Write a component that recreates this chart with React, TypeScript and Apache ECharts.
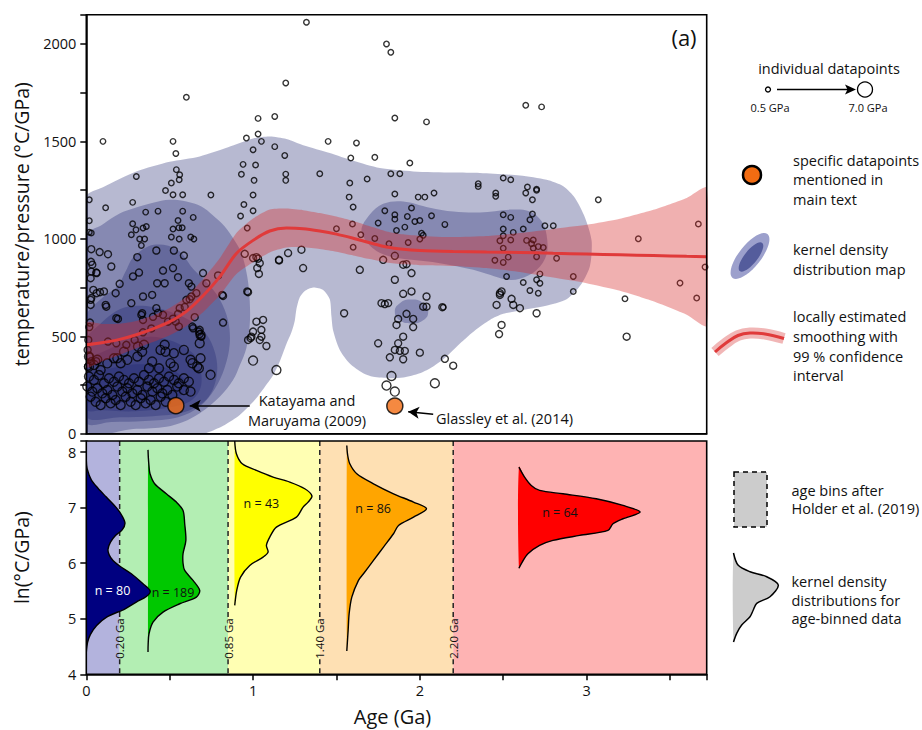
import React, { useEffect, useRef } from "react";
import * as echarts from "echarts";

const FONT = '"Open Sans", "Noto Sans", sans-serif';

const X_MAX = 3.72;
const TP_MAX = 2150;
const LN_MIN = 4;
const LN_MAX = 8.2;

// ---------- panel (a): individual datapoints [age Ga, T/P °C/GPa] ----------
const ptsLowP: number[][] = [
  [0.10,1500],[0.60,1726],[0.52,1500],[0.537,1438],[0.30,1320],[0.54,1355],[0.56,1329],[0.557,1303],[0.51,1286],[0.475,1248],[0.52,1226],[0.578,1226],[0.747,1225],[0.018,1200],[0.116,1159],[0.278,1187],[0.356,1137],[0.43,1142],[0.578,1142],[0.641,1110],[0.018,1093],[0.018,1034],[0.03,1030],[0.278,1077],[0.298,1046],[0.34,1055],[0.36,1063],[0.27,1021],[0.32,999],[0.35,999],[0.55,1094],[0.52,1050],[0.555,1057],[0.575,1057],[0.51,1009],[0.557,999],[0.626,1009],[0.645,999],[0.33,966],
  [0.96,1517],[1.03,1618],[1.03,1538],[1.05,1500],[1.13,1628],[1.13,1473],[1.0,1457],[1.19,1428],[1.196,1800],[0.94,1382],[1.015,1379],[0.93,1331],[1.006,1300],[1.196,1332],[1.196,1300],[1.0,1225],[0.945,1176],[1.0,1144],[0.925,1117],[0.965,1055],
  [1.32,2111],[1.80,2000],[1.826,1957],[2.635,1685],[2.73,1677],[1.85,1620],[2.04,1600],[1.45,1500],[1.62,1492],[1.586,1415],[1.73,1418],[1.94,1389],[1.40,1334],[1.58,1286],[1.684,1307],[1.826,1334],[1.88,1334],[1.576,1214],[1.60,1163],[1.85,1230],[1.99,1214],[2.03,1214],[2.085,1235],[2.35,1283],[2.35,1269],[2.50,1312],[2.545,1303],[2.455,1235],[2.455,1218],[2.645,1266],[2.635,1235],[2.70,1255],[2.70,1249],[2.675,1200],[3.07,1200],
  [1.79,1144],[1.85,1123],[1.85,1101],[1.925,1115],[1.95,1158],[1.97,1089],[2.0,1094],[1.91,1060],[1.86,1043],[2.01,1029],[2.02,1018],[2.07,1118],[2.15,1074],[1.75,1081],[1.596,1076],[2.50,1123],[2.545,1110],[2.675,1127],[2.66,1098],[2.50,1050],[2.56,1033],[2.62,1050],[2.50,1016],[2.75,1067],[2.80,1067],[3.67,1076],[3.31,1000],[1.50,1052],[1.646,1021],
  [1.73,1002],[1.815,975],[1.93,981],[2.0,999],[1.60,957],[2.48,990],[2.545,994],[2.50,952],[2.64,992],[2.68,994],[2.67,975],[2.68,952],[2.71,960],[2.74,955],[2.53,906],[2.45,890],[2.50,879],[2.70,908],[2.82,900],
  [2.72,820],[2.70,790],[2.72,772],[2.62,776],[2.66,735],[2.71,721],[2.92,807],[2.92,730],[2.52,807],[3.23,692],[3.56,773],[3.66,696],[3.71,855],[2.14,649],
];

const ptsMidP: number[][] = [
  [1.29,944],[1.21,927],[1.30,850],[1.156,889],[0.95,923],[1.0,901],[1.03,898],[1.04,875],[1.025,850],[1.035,820],[0.97,726],
  [1.64,841],[1.78,892],[1.85,913],[1.90,867],[1.92,870],[1.95,824],[1.85,790],[1.90,718],[1.95,730],[2.04,704],[1.77,670],[1.79,665],[1.81,670],[1.546,618],[1.92,615],[2.02,652],[2.04,652],[2.135,649],[1.87,589],[1.86,558],[1.96,589],[1.96,547],[1.90,498],[1.87,464],[1.75,464],[1.85,430],[1.88,425],[1.91,425],[2.0,416],[1.82,392],[1.90,382],[2.15,384],[2.20,349],
  [2.48,721],[2.49,730],[2.48,712],[2.55,692],[2.56,661],[2.60,644],[2.46,661],[2.70,618],[2.49,558],[2.475,511],[3.24,498],
  [0.03,947],[0.08,932],[0.13,921],[0.028,882],[0.036,867],[0.06,827],[0.03,832],[0.15,858],[0.306,906],[0.42,940],[0.525,940],[0.585,914],[0.52,850],[0.46,837],[0.55,803],[0.28,807],[0.316,827],[0.2,769],[0.425,772],[0.47,772],[0.615,772],[0.70,824],[0.72,772],[0.79,812],[1.155,892],[1.02,906],[0.82,707],[0.026,798],[0.062,824],[0.026,687],[0.03,696],[0.042,738],[0.062,721],[0.082,726],[0.106,730],[0.176,721],[0.12,652],[0.026,661],[0.022,570],[0.018,547],[0.19,589],[0.27,670],[0.34,704],[0.395,712],[0.42,644],[0.33,610],[0.34,584],[0.56,644],[0.60,687],[0.63,704],[0.63,755],[0.66,721],[0.65,598],[0.68,533],[0.68,511],[0.69,498],[0.64,541],[0.82,570],[0.97,481],[0.99,498],[1.05,498],[1.06,584],[1.05,533],[1.04,481],[1.08,450],[1.02,575],[1.0,524],[0.18,593],[0.335,618],[0.536,575],[0.555,550],[0.636,550],[0.675,524],[0.116,661],[0.815,712],[0.965,730],[0.985,490],
  [0.40,600],[0.43,620],[0.46,610],[0.49,575],[0.52,590],[0.55,615],[0.59,650],[0.62,690],[0.13,473],[0.18,464],[0.24,456],[0.29,481],[0.34,520],[0.39,540],[0.012,481],[0.008,430],[0.02,396],[0.01,344],[0.03,372],[0.06,372],
];

const ptsHighP: number[][] = [
  [0.016,293],[0.046,276],[0.076,301],[0.106,259],[0.136,284],[0.166,267],[0.196,293],[0.226,276],[0.256,259],[0.286,284],[0.316,267],[0.346,301],[0.376,276],[0.406,259],[0.436,284],[0.466,267],[0.496,293],[0.526,276],[0.555,259],[0.585,284],[0.615,267],
  [0.006,242],[0.036,216],[0.066,233],[0.096,207],[0.126,224],[0.156,199],[0.186,242],[0.216,216],[0.246,233],[0.276,207],[0.306,224],[0.336,199],[0.366,242],[0.396,216],[0.426,233],[0.456,207],[0.486,224],[0.516,199],[0.545,242],[0.585,224],[0.625,216],
  [0.026,190],[0.056,164],[0.086,147],[0.116,182],[0.146,156],[0.176,173],[0.206,147],[0.236,190],[0.266,164],[0.296,147],[0.326,182],[0.356,156],[0.386,173],[0.416,147],[0.446,190],[0.476,164],
  [0.016,344],[0.046,353],[0.086,327],[0.016,396],[0.066,379],[0.126,361],[0.166,387],[0.226,421],[0.246,379],[0.186,387],[0.206,362],[0.346,456],[0.31,447],[0.335,421],[0.47,456],[0.445,430],[0.475,421],[0.525,413],[0.585,430],[0.625,379],[0.636,362],[0.665,344],[0.685,387],[0.675,336],[0.745,302],[0.505,362],[0.525,344],[0.436,336],[0.395,370],[0.376,336],[0.306,396],[0.68,464],[0.685,507],
  [1.83,296],[1.80,247],[1.85,216],[2.09,259],[1.14,327],[1.0,375],
];

const highlightPts: number[][] = [[0.537,144],[1.85,142]];
const highlightArrows: number[][][] = [
  [[0.98,144],[0.62,144]],
  [[2.08,100],[1.93,113]],
];

// ---------- kernel density contours [age, T/P] ----------
const kdeOuter = [[0,0],[0,1217],[0.1,1265],[0.3,1345],[0.5,1395],[0.68,1423],[0.85,1470],[1.0,1515],[1.1,1525],[1.2,1512],[1.3,1480],[1.46,1440],[1.6,1400],[1.76,1363],[1.96,1346],[2.2,1340],[2.36,1338],[2.6,1325],[2.76,1303],[2.86,1270],[2.93,1210],[2.99,1110],[3.03,990],[3.02,860],[2.97,770],[2.88,690],[2.75,655],[2.62,635],[2.5,615],[2.42,584],[2.33,530],[2.25,470],[2.16,396],[2.08,345],[2.0,310],[1.9,288],[1.82,285],[1.72,292],[1.66,310],[1.58,360],[1.52,430],[1.48,530],[1.47,601],[1.46,690],[1.42,738],[1.36,750],[1.31,732],[1.28,700],[1.26,640],[1.25,580],[1.23,520],[1.2,460],[1.16,370],[1.12,300],[1.07,240],[1.01,173],[0.92,96],[0.83,45],[0.74,10],[0.7,0]];
const kdeL2West = [[0,25],[0,1012],[0.1,1075],[0.2,1130],[0.29,1158],[0.4,1185],[0.5,1200],[0.6,1192],[0.69,1166],[0.76,1120],[0.83,1063],[0.89,990],[0.93,927],[0.965,807],[0.98,680],[0.98,560],[0.96,440],[0.92,350],[0.88,276],[0.8,190],[0.68,105],[0.58,60],[0.48,36],[0.3,25]];
const kdeL2East = [[1.65,1040],[1.7,1125],[1.78,1180],[1.9,1192],[2.06,1160],[2.2,1140],[2.36,1135],[2.55,1150],[2.66,1140],[2.73,1090],[2.76,1020],[2.76,920],[2.7,840],[2.6,795],[2.52,790],[2.42,815],[2.32,841],[2.12,875],[1.95,892],[1.82,909],[1.72,950]];
const kdeL2Blob = [[1.85,626],[1.88,670],[1.95,688],[2.02,670],[2.05,626],[2.02,582],[1.95,566],[1.88,582]];
const kdeL3 = [[0,60],[0,600],[0.1,700],[0.186,755],[0.24,840],[0.286,909],[0.405,969],[0.545,944],[0.645,841],[0.73,770],[0.8,690],[0.85,580],[0.86,460],[0.83,340],[0.77,230],[0.68,140],[0.55,85],[0.35,65],[0.15,60]];
const kdeL4 = [[0,90],[0,480],[0.08,560],[0.18,630],[0.28,655],[0.4,650],[0.52,620],[0.64,570],[0.72,510],[0.77,420],[0.785,327],[0.76,230],[0.7,160],[0.585,110],[0.4,90],[0.2,85]];
const kdeL5 = [[0,125],[0,370],[0.1,420],[0.25,475],[0.386,498],[0.5,480],[0.585,447],[0.66,390],[0.69,300],[0.68,224],[0.62,165],[0.5,135],[0.29,115],[0.1,120]];
const kdeL6 = [[0,165],[0,300],[0.12,330],[0.28,355],[0.42,350],[0.54,315],[0.6,260],[0.58,205],[0.5,175],[0.3,160],[0.1,160]];

// ---------- LOESS smoothing with 99 % confidence interval ----------
const loessAge = [0,0.1,0.2,0.3,0.4,0.5,0.6,0.7,0.8,0.9,1.0,1.1,1.2,1.3,1.4,1.5,1.6,1.7,1.8,1.9,2.0,2.2,2.4,2.6,2.8,3.0,3.2,3.4,3.6,3.72];
const loessFit = [456,468,484,508,538,575,628,708,805,925,992,1040,1055,1052,1040,1024,1003,980,958,946,940,935,932,930,926,922,918,914,910,908];
const loessUpper = [571,563,564,578,606,645,703,793,900,1030,1104,1150,1155,1147,1132,1114,1091,1064,1038,1023,1015,1009,1014,1030,1051,1072,1103,1149,1210,1263];
const loessLower = [341,373,404,438,470,505,553,623,710,820,880,930,955,957,948,934,915,896,878,869,865,861,850,830,801,772,733,679,610,553];

// ---------- panel (b): age bins and kernel densities [ln(T/P), width in Ga] ----------
const binEdges = [0, 0.2, 0.85, 1.4, 2.2, 3.72];
const binLabels = ["0.20 Ga", "0.85 Ga", "1.40 Ga", "2.20 Ga"];
const binColors = ["#b3b3dd", "#b3eeb3", "#ffffb3", "#fee0b3", "#feb3b3"];

const violinBase = [0, 0.37, 0.89, 1.562, 2.594];
const violinCounts = [80, 189, 43, 86, 64];
const violinColors = ["#000080", "#00c800", "#ffff00", "#ffa500", "#ff0000"];
const violin1 = [[7.85,0],[7.7,0.005],[7.5,0.03],[7.35,0.07],[7.19,0.12],[7.0,0.18],[6.85,0.215],[6.72,0.232],[6.6,0.215],[6.5,0.175],[6.38,0.145],[6.25,0.13],[6.15,0.137],[6.05,0.16],[5.95,0.2],[5.81,0.27],[5.63,0.34],[5.5,0.383],[5.4,0.36],[5.3,0.3],[5.18,0.233],[5.03,0.122],[4.88,0.062],[4.72,0.025],[4.58,0.008],[4.4,0]];
const violin2 = [[8.04,0],[7.9,0.002],[7.75,0.006],[7.61,0.012],[7.43,0.04],[7.25,0.11],[7.1,0.17],[6.95,0.21],[6.71,0.22],[6.41,0.227],[6.17,0.21],[6.0,0.21],[5.87,0.22],[5.69,0.27],[5.51,0.31],[5.39,0.29],[5.27,0.19],[5.12,0.09],[4.94,0.03],[4.73,0.006],[4.55,0.001],[4.4,0]];
const violin3 = [[8.2,0],[7.97,0.01],[7.79,0.045],[7.67,0.13],[7.55,0.23],[7.46,0.33],[7.34,0.42],[7.21,0.463],[7.1,0.44],[7.01,0.41],[6.83,0.37],[6.65,0.25],[6.47,0.21],[6.32,0.19],[6.2,0.2],[6.11,0.17],[5.96,0.09],[5.75,0.035],[5.51,0.012],[5.24,0]];
const violin4 = [[8.12,0],[7.95,0.005],[7.79,0.018],[7.61,0.06],[7.43,0.16],[7.25,0.28],[7.1,0.4],[6.98,0.478],[6.83,0.40],[6.68,0.31],[6.53,0.28],[6.29,0.22],[6.05,0.16],[5.81,0.1],[5.69,0.07],[5.39,0.03],[5.09,0.014],[4.79,0.008],[4.42,0]];
const violin5 = [[7.73,0],[7.55,0.034],[7.4,0.074],[7.31,0.124],[7.25,0.264],[7.16,0.464],[7.04,0.624],[6.92,0.727],[6.8,0.624],[6.71,0.564],[6.59,0.534],[6.5,0.364],[6.41,0.204],[6.32,0.124],[6.17,0.054],[6.02,0.02],[5.91,0]];
const violinProfiles = [violin1, violin2, violin3, violin4, violin5];
const violinLabelAt = [[0.157,5.51],[0.52,5.48],[1.05,7.07],[1.72,6.98],[2.84,6.92]];

// ---------- helpers ----------
const KDE_FILL = "rgba(30,36,112,0.32)";
const LEG = 14.5;

function polygonSeries(pts: number[][], fill: string, z: number, smooth = 0.35) {
  return {
    type: "custom",
    xAxisIndex: 0,
    yAxisIndex: 0,
    z,
    silent: true,
    clip: true,
    data: [[0, 0]],
    renderItem: (_p: any, api: any) => ({
      type: "polygon",
      shape: { points: pts.map((p) => api.coord(p)), smooth },
      style: { fill, stroke: "none" },
    }),
  };
}

function frameSeries(ai: number, x0: number, x1: number, y0: number, y1: number) {
  return {
    type: "custom",
    xAxisIndex: ai,
    yAxisIndex: ai,
    z: 20,
    silent: true,
    clip: false,
    data: [[x0, y0]],
    renderItem: (_p: any, api: any) => {
      const a = api.coord([x0, y1]);
      const b = api.coord([x1, y0]);
      return {
        type: "rect",
        shape: { x: a[0], y: a[1], width: b[0] - a[0], height: b[1] - a[1] },
        style: { fill: "none", stroke: "#000", lineWidth: 1.6 },
      };
    },
  };
}

const openCircle = (size: number, z: number, data: number[][]) => ({
  type: "scatter",
  xAxisIndex: 0,
  yAxisIndex: 0,
  data,
  symbol: "circle",
  symbolSize: size,
  silent: true,
  z,
  itemStyle: { color: "rgba(0,0,0,0)", borderColor: "#000", borderWidth: 1.4 },
});

const txt = (x: number, y: number, text: string, size = LEG, align = "left") => ({
  type: "text",
  x,
  y,
  style: { text, fontSize: size, fontFamily: FONT, fill: "#111", align, verticalAlign: "middle" },
});

function buildOption() {
  const series: any[] = [];
  series.push(polygonSeries(kdeOuter, KDE_FILL, 1, 0.25));
  series.push(polygonSeries(kdeL2West, KDE_FILL, 1));
  series.push(polygonSeries(kdeL2East, KDE_FILL, 1));
  series.push(polygonSeries(kdeL2Blob, KDE_FILL, 1, 0.5));
  series.push(polygonSeries(kdeL3, KDE_FILL, 1));
  series.push(polygonSeries(kdeL4, KDE_FILL, 1));
  series.push(polygonSeries(kdeL5, KDE_FILL, 1));
  series.push(polygonSeries(kdeL6, KDE_FILL, 1));
  series.push(openCircle(5.5, 3, ptsLowP));
  series.push(openCircle(7, 3, ptsMidP));
  series.push(openCircle(9, 3, ptsHighP));
  const band = [
    ...loessAge.map((a, i) => [a, loessUpper[i]]),
    ...loessAge.map((a, i) => [a, loessLower[i]]).reverse(),
  ];
  series.push(polygonSeries(band, "rgba(214,40,40,0.37)", 4, 0.2));
  series.push({
    type: "line",
    xAxisIndex: 0,
    yAxisIndex: 0,
    data: loessAge.map((a, i) => [a, loessFit[i]]),
    smooth: 0.3,
    symbol: "none",
    silent: true,
    z: 5,
    lineStyle: { color: "#e03a3a", width: 3 },
  });
  series.push({
    type: "scatter",
    xAxisIndex: 0,
    yAxisIndex: 0,
    data: highlightPts,
    symbol: "circle",
    symbolSize: 16,
    silent: true,
    z: 6,
    itemStyle: { color: "#f26c12", borderColor: "#000", borderWidth: 1.5 },
    markLine: {
      silent: true,
      symbol: ["none", "arrow"],
      symbolSize: [9, 11],
      label: { show: false },
      lineStyle: { color: "#000", width: 1.5, type: "solid" },
      emphasis: { disabled: true },
      data: highlightArrows.map(([a, b]) => [{ coord: a }, { coord: b }]),
    },
  });
  series.push(frameSeries(0, 0, X_MAX, 0, TP_MAX));

  series.push({
    type: "custom",
    xAxisIndex: 1,
    yAxisIndex: 1,
    z: 1,
    silent: true,
    clip: true,
    data: binColors.map((_, i) => [binEdges[i], binEdges[i + 1]]),
    renderItem: (p: any, api: any) => {
      const i = p.dataIndex;
      const a = api.coord([binEdges[i], LN_MAX]);
      const b = api.coord([binEdges[i + 1], LN_MIN]);
      return {
        type: "rect",
        shape: { x: a[0], y: a[1], width: b[0] - a[0], height: b[1] - a[1] },
        style: { fill: binColors[i] },
      };
    },
  });
  series.push({
    type: "custom",
    xAxisIndex: 1,
    yAxisIndex: 1,
    z: 2,
    silent: true,
    clip: true,
    data: binLabels.map((_, i) => [binEdges[i + 1], LN_MIN]),
    renderItem: (p: any, api: any) => {
      const e = binEdges[p.dataIndex + 1];
      const top = api.coord([e, LN_MAX]);
      const a = api.coord([e, 5.02]);
      const b = api.coord([e, 4.27]);
      const bot = api.coord([e, LN_MIN]);
      const c = api.coord([e, 4.645]);
      const ls = { stroke: "#222", lineWidth: 1.5, lineDash: [5, 4] };
      return {
        type: "group",
        children: [
          { type: "line", shape: { x1: top[0], y1: top[1], x2: a[0], y2: a[1] }, style: ls },
          { type: "line", shape: { x1: b[0], y1: b[1], x2: bot[0], y2: bot[1] }, style: ls },
          {
            type: "text",
            x: c[0],
            y: c[1],
            rotation: Math.PI / 2,
            style: { text: binLabels[p.dataIndex], fontSize: 11.5, fontFamily: FONT, fill: "#111", align: "center", verticalAlign: "middle" },
          },
        ],
      };
    },
  });
  const order = [1, 2, 3, 4, 0];
  order.forEach((vi) => {
    const prof = violinProfiles[vi];
    const base = violinBase[vi];
    series.push({
      type: "custom",
      xAxisIndex: 1,
      yAxisIndex: 1,
      z: vi === 0 ? 4 : 3,
      silent: true,
      clip: true,
      data: [[base, prof[0][0]]],
      renderItem: (_p: any, api: any) => {
        const pts = prof.map(([ln, w]) => api.coord([base + w, ln]));
        const lab = api.coord(violinLabelAt[vi]);
        return {
          type: "group",
          children: [
            { type: "polygon", shape: { points: pts, smooth: 0.3 }, style: { fill: violinColors[vi], stroke: "none" } },
            { type: "polyline", shape: { points: pts, smooth: 0.3 }, style: { fill: "none", stroke: "#000", lineWidth: 1.4 } },
            {
              type: "text",
              x: lab[0],
              y: lab[1],
              style: {
                text: "n = " + violinCounts[vi],
                fontSize: 12.5,
                fontFamily: FONT,
                fill: vi === 0 ? "#fff" : "#111",
                align: "center",
                verticalAlign: "middle",
              },
            },
          ],
        };
      },
    });
  });
  series.push(frameSeries(1, 0, X_MAX, LN_MIN, LN_MAX));

  const axisLine = { show: true, lineStyle: { color: "#000", width: 1.5 } };
  const axisTick = { show: true, length: 6, lineStyle: { color: "#000", width: 1.5 } };
  const axisLabel = { color: "#111", fontSize: 14.5, fontFamily: FONT };

  const loessIcon = [[715, 352], [726, 343], [738, 335.5], [750, 333], [765, 334], [784, 338.5]];
  const kdeIcon = [[733.5, 553], [738, 565], [750, 571.7], [766.7, 576.7], [778.3, 585], [770, 596.7], [756.7, 603.3], [753.3, 610], [750, 616.7], [741.7, 625], [736.7, 633.3], [733.5, 642]];

  const graphic: any[] = [
    txt(684, 37, "(a)", 22, "center"),
    txt(684, 461, "(b)", 22, "center"),
    txt(307, 400, "Katayama and", 14.5, "center"),
    txt(307, 420, "Maruyama (2009)", 14.5, "center"),
    txt(436, 418, "Glassley et al. (2014)", 14.5, "left"),
    txt(829, 68, "individual datapoints", LEG, "center"),
    { type: "circle", shape: { cx: 768, cy: 89.5, r: 2.5 }, style: { fill: "none", stroke: "#000", lineWidth: 1.3 } },
    { type: "line", shape: { x1: 777, y1: 89.5, x2: 849, y2: 89.5 }, style: { stroke: "#000", lineWidth: 1.5 } },
    { type: "polygon", shape: { points: [[856, 89.5], [845, 84.5], [847.5, 89.5], [845, 94.5]] }, style: { fill: "#000" } },
    { type: "circle", shape: { cx: 865, cy: 89.5, r: 7.5 }, style: { fill: "none", stroke: "#000", lineWidth: 1.3 } },
    txt(770, 107, "0.5 GPa", 11, "center"),
    txt(868, 107, "7.0 GPa", 11, "center"),
    { type: "circle", shape: { cx: 752, cy: 175, r: 9 }, style: { fill: "#f26c12", stroke: "#000", lineWidth: 2.5 } },
    txt(793, 160, "specific datapoints"),
    txt(793, 179.5, "mentioned in"),
    txt(793, 199, "main text"),
    { type: "ellipse", x: 750, y: 256, rotation: 0.9, shape: { cx: 0, cy: 0, rx: 28, ry: 11 }, style: { fill: "#9ca0cc" } },
    { type: "ellipse", x: 751, y: 257, rotation: 0.9, shape: { cx: 0, cy: 0, rx: 18, ry: 6.5 }, style: { fill: "#545c9c" } },
    txt(793, 249.5, "kernel density"),
    txt(793, 269.5, "distribution map"),
    { type: "polyline", shape: { points: loessIcon, smooth: 0.4 }, style: { fill: "none", stroke: "rgba(228,110,110,0.5)", lineWidth: 11 } },
    { type: "polyline", shape: { points: loessIcon, smooth: 0.4 }, style: { fill: "none", stroke: "#e03a3a", lineWidth: 3 } },
    txt(793, 316.5, "locally estimated"),
    txt(793, 336.5, "smoothing with"),
    txt(793, 356, "99 % confidence"),
    txt(793, 375.5, "interval"),
    { type: "rect", shape: { x: 734, y: 472, width: 33, height: 55 }, style: { fill: "#cccccc", stroke: "#000", lineWidth: 1.5, lineDash: [5, 4] } },
    txt(791.5, 490, "age bins after"),
    txt(791.5, 508.5, "Holder et al. (2019)"),
    { type: "polygon", shape: { points: kdeIcon, smooth: 0.3 }, style: { fill: "#cccccc" } },
    { type: "polyline", shape: { points: kdeIcon, smooth: 0.3 }, style: { fill: "none", stroke: "#000", lineWidth: 1.5 } },
    txt(791.5, 581.7, "kernel density"),
    txt(791.5, 600, "distributions for"),
    txt(791.5, 618.3, "age-binned data"),
  ];

  return {
    animation: false,
    backgroundColor: "#fff",
    textStyle: { fontFamily: FONT },
    grid: [
      { left: 86.3, top: 14.7, width: 620.4, height: 419 },
      { left: 86.3, top: 441, width: 620.4, height: 233.3 },
    ],
    xAxis: [
      {
        gridIndex: 0, type: "value", min: 0, max: X_MAX, interval: 0.5,
        axisLine, axisTick: { show: false }, axisLabel: { show: false }, splitLine: { show: false },
      },
      {
        gridIndex: 1, type: "value", min: 0, max: X_MAX, interval: 0.5,
        axisLine, axisTick,
        axisLabel: { ...axisLabel, margin: 9, formatter: (v: number) => (Number.isInteger(v) ? String(v) : "") },
        splitLine: { show: false },
        name: "Age (Ga)", nameLocation: "middle", nameGap: 32,
        nameTextStyle: { fontSize: 20, fontFamily: FONT, color: "#111", padding: [0, 8, 0, 0] },
      },
    ],
    yAxis: [
      {
        gridIndex: 0, type: "value", min: 0, max: TP_MAX, interval: 250,
        axisLine, axisTick,
        axisLabel: { ...axisLabel, margin: 10, formatter: (v: number) => (v % 500 === 0 ? String(v) : "") },
        splitLine: { show: false },
        name: "temperature/pressure (°C/GPa)", nameLocation: "middle", nameGap: 55,
        nameTextStyle: { fontSize: 19.5, fontFamily: FONT, color: "#111" },
      },
      {
        gridIndex: 1, type: "value", min: LN_MIN, max: LN_MAX, interval: 1,
        axisLine, axisTick,
        axisLabel: { ...axisLabel, margin: 10, formatter: (v: number) => (Number.isInteger(v) ? String(v) : "") },
        splitLine: { show: false },
        name: "ln(°C/GPa)", nameLocation: "middle", nameGap: 55,
        nameTextStyle: { fontSize: 19.5, fontFamily: FONT, color: "#111" },
      },
    ],
    series,
    graphic,
  };
}

export default function App() {
  const ref = useRef<HTMLDivElement>(null);
  useEffect(() => {
    if (!ref.current) return;
    const chart = echarts.init(ref.current, null, { renderer: "svg" });
    chart.setOption(buildOption() as any);
    return () => chart.dispose();
  }, []);
  return (
    <div
      ref={ref}
      style={{ position: "fixed", left: 0, top: 0, width: 922, height: 730, background: "#fff" }}
    />
  );
}
